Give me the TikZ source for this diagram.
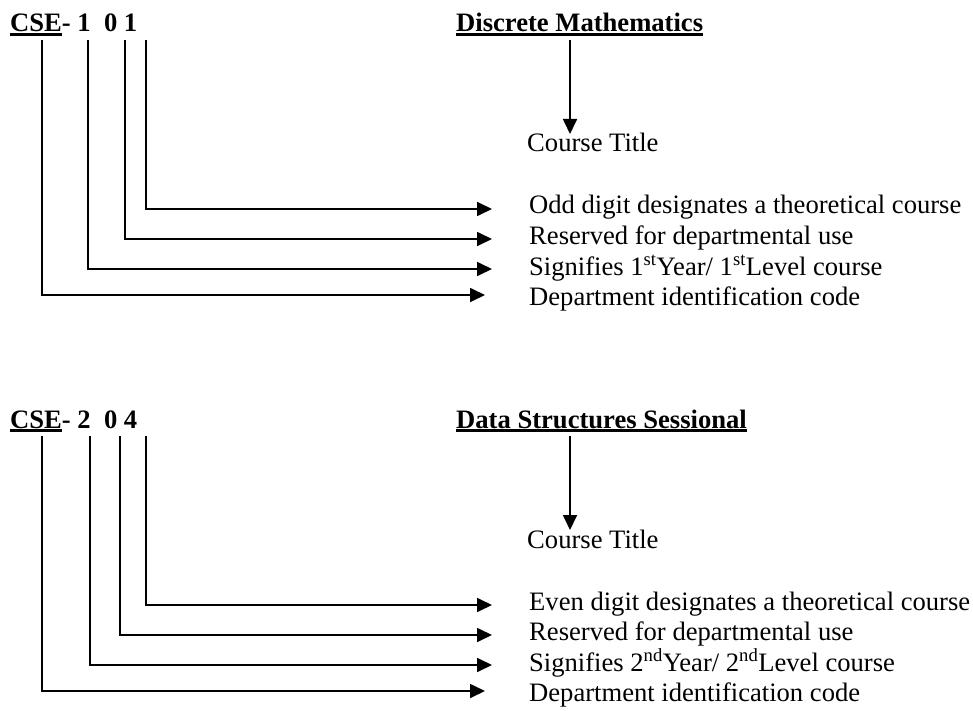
\documentclass[tikz,border=0pt]{standalone}
\usepackage{fontspec}
\setmainfont{Liberation Serif}
\usetikzlibrary{arrows.meta,positioning}
\newcommand{\ulx}[1]{\setbox0=\hbox{#1}\rlap{\rule[-3.6pt]{\wd0}{2.4pt}}\box0}

\begin{document}
\begin{tikzpicture}[x=1pt, y=-1pt,
  font=\fontsize{26.6}{30.6}\selectfont,
  txt/.style={anchor=base west, inner sep=0pt},
  code/.style={txt, font=\fontsize{26.6}{30.6}\selectfont\bfseries},
  arr/.style={-{Triangle[length=15pt, width=14pt]}, line width=1.7pt}]
  \useasboundingbox (0,0) rectangle (973,711);

  % first course
  \node[code] (code1) at (10,32) {\ulx{CSE}- 1\ \ 0 1};
  \node[code] (title1) at (456,32) {\ulx{Discrete Mathematics}};
  \node[txt] (ctitle1) at (527,152) {Course Title};
  \node[txt] (odd1) at (529,214) {Odd digit designates a theoretical course};
  \node[txt] (res1) at (529,244.5) {Reserved for departmental use};
  \node[txt] (year1) at (529,275) {Signifies 1\textsuperscript{st}Year/ 1\textsuperscript{st}Level course};
  \node[txt] (dept1) at (529,305.5) {Department identification code};
  \coordinate (ta1) at (570,40);
  \coordinate (tb1) at (570,134);
  \coordinate (s1a) at (42,40);
  \coordinate (s1b) at (88,40);
  \coordinate (s1c) at (125,40);
  \coordinate (s1d) at (146,40);
  \coordinate (e1a) at (485,295);
  \coordinate (e1b) at (492,269);
  \coordinate (e1c) at (492,239);
  \coordinate (e1d) at (492,209);
  \draw[arr] (ta1) -- (tb1);
  \draw[arr] (s1d) |- (e1d);
  \draw[arr] (s1c) |- (e1c);
  \draw[arr] (s1b) |- (e1b);
  \draw[arr] (s1a) |- (e1a);

  % second course
  \begin{scope}[shift={(0,396)}]
  \node[code] (code2) at (10,32) {\ulx{CSE}- 2\ \ 0 4};
  \node[code] (title2) at (456,32) {\ulx{Data Structures Sessional}};
  \node[txt] (ctitle2) at (527,152) {Course Title};
  \node[txt] (even2) at (529,214) {Even digit designates a theoretical course};
  \node[txt] (res2) at (529,244.5) {Reserved for departmental use};
  \node[txt] (year2) at (529,275) {Signifies 2\textsuperscript{nd}Year/ 2\textsuperscript{nd}Level course};
  \node[txt] (dept2) at (529,305.5) {Department identification code};
  \coordinate (ta2) at (570,40);
  \coordinate (tb2) at (570,134);
  \coordinate (s2a) at (42,40);
  \coordinate (s2b) at (90,40);
  \coordinate (s2c) at (120,40);
  \coordinate (s2d) at (146,40);
  \coordinate (e2a) at (485,295);
  \coordinate (e2b) at (492,269);
  \coordinate (e2c) at (492,239);
  \coordinate (e2d) at (492,209);
  \draw[arr] (ta2) -- (tb2);
  \draw[arr] (s2d) |- (e2d);
  \draw[arr] (s2c) |- (e2c);
  \draw[arr] (s2b) |- (e2b);
  \draw[arr] (s2a) |- (e2a);
  \end{scope}
\end{tikzpicture}
\end{document}
